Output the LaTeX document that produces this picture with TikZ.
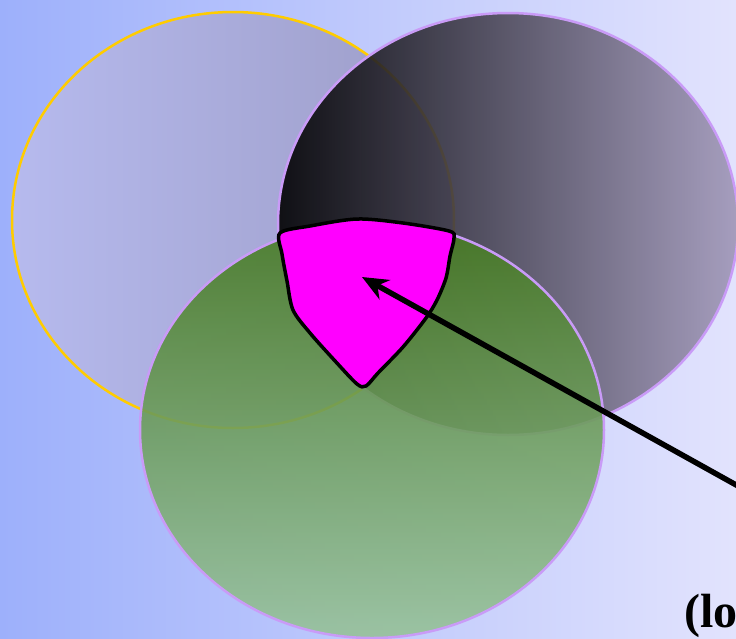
\documentclass[tikz,border=0pt]{standalone}
\usepackage{fontspec}
\newfontfamily\notefont{Liberation Serif}
\usepackage{tikz}
\usetikzlibrary{arrows.meta,shapes.geometric}
\usepackage{xcolor}
\definecolor{skyLeft}{HTML}{9DB0FB}
\definecolor{skyRight}{HTML}{E2E3FD}
\definecolor{lilacEdge}{HTML}{C99BF7}
\definecolor{goldEdge}{HTML}{FFCC00}
\definecolor{mistLeft}{HTML}{B6BAEE}
\definecolor{mistRight}{HTML}{9C9CC6}
\definecolor{duskMid}{HTML}{4E4868}
\definecolor{duskRight}{HTML}{A097B8}
\definecolor{leafTop}{HTML}{467A22}
\definecolor{leafBottom}{HTML}{97C29A}
\definecolor{hotPink}{HTML}{FF00FF}

\begin{document}
\begin{tikzpicture}[x=1pt,y=-1pt,
  blob/.style={ellipse,inner sep=0pt,line width=2.5pt},
  ptr/.style={-{Stealth[length=26pt,width=22pt]},line width=5.5pt,black}]
  \useasboundingbox (0,0) rectangle (736,638);
  \shade[left color=skyLeft,right color=skyRight] (0,0) rectangle (736,638);

  \node[blob,draw=goldEdge,left color=mistLeft,right color=mistRight,
    minimum width=442pt,minimum height=416pt] (left) at (233,220) {};
  \node[blob,draw=lilacEdge,left color=black,middle color=duskMid,right color=duskRight,fill opacity=0.9,
    minimum width=460pt,minimum height=422pt] (right) at (508,224) {};
  \node[blob,draw=lilacEdge,top color=leafTop,bottom color=leafBottom,fill opacity=0.9,
    minimum width=464pt,minimum height=416pt] (low) at (372,430) {};

  % the part that lies in all three
  \draw[line width=3.5pt,fill=hotPink] plot[smooth cycle,tension=0.5] coordinates {
    (280,233) (310,226) (357,219) (403,223) (449,231) (454,238) (450,256) (446,278)
    (437,300) (426,318) (403,347) (378,373) (366,386) (357,384) (336,362) (310,333)
    (293,310) (287,281) (282,254)};

  \coordinate (tip) at (362,277);
  \coordinate (tail) at (810,526);
  \draw[ptr] (tail) -- (tip);

  \node[anchor=base west,inner sep=0pt,font=\notefont\bfseries\fontsize{48}{48}\selectfont] (note) at (684,627) {(lo};
\end{tikzpicture}
\end{document}
